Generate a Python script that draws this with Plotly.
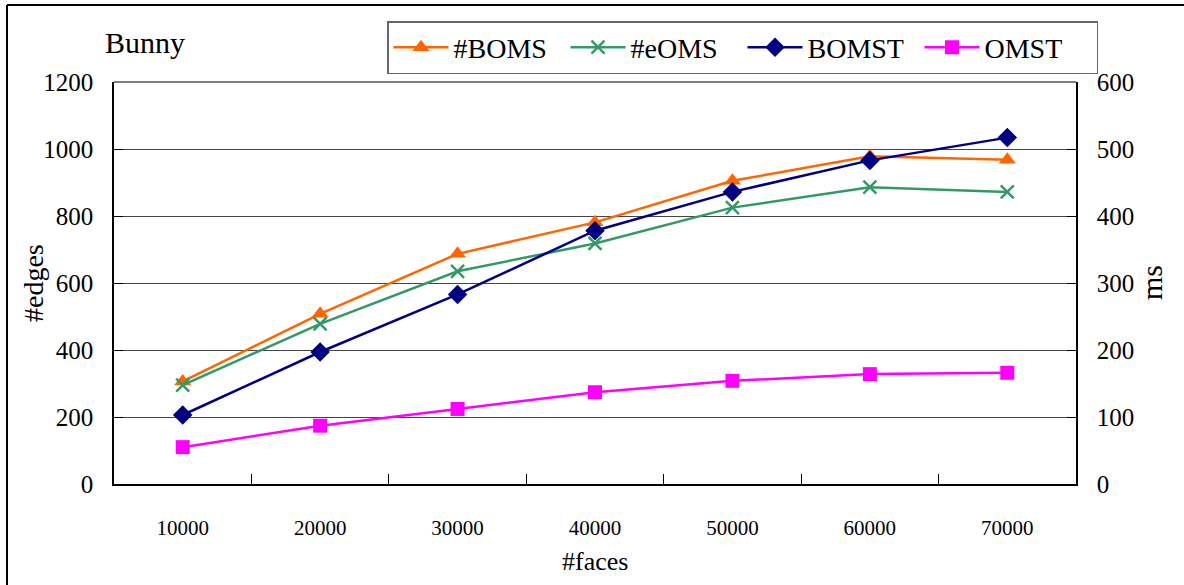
import plotly.graph_objects as go

faces = ["10000", "20000", "30000", "40000", "50000", "60000", "70000"]
boms = [306, 508, 687, 781, 905, 978, 968]
eoms = [295, 478, 635, 718, 825, 886, 872]
bomst_ms = [103, 197, 283, 378, 436, 483, 517]
omst_ms = [55, 87, 112, 137, 154, 164, 166]

FONT = "Liberation Serif, Times New Roman, serif"
W, H = 1184, 585
L, R, T, B = 114, 108, 82, 101

fig = go.Figure()
fig.add_trace(go.Scatter(x=faces, y=boms, name="#BOMS", mode="lines+markers",
                         line=dict(color="#FF6600", width=2.5),
                         marker=dict(symbol="triangle-up", size=15, color="#FF6600")))
fig.add_trace(go.Scatter(x=faces, y=eoms, name="#eOMS", mode="lines+markers",
                         line=dict(color="#339966", width=2.5),
                         marker=dict(symbol="x-thin", size=13, color="#339966",
                                     line=dict(color="#339966", width=2.5))))
fig.add_trace(go.Scatter(x=faces, y=bomst_ms, name="BOMST", mode="lines+markers", yaxis="y2",
                         line=dict(color="#000080", width=2.5),
                         marker=dict(symbol="diamond", size=15, color="#000080")))
fig.add_trace(go.Scatter(x=faces, y=omst_ms, name="OMST", mode="lines+markers", yaxis="y2",
                         line=dict(color="#FF00FF", width=2.5),
                         marker=dict(symbol="square", size=14, color="#FF00FF")))

pw = W - L - R
ph = H - T - B


def px(x):
    return (x - L) / pw


def py(y):
    return (H - B - y) / ph


fig.update_layout(
    width=W, height=H,
    margin=dict(l=L, r=R, t=T, b=B, autoexpand=False),
    paper_bgcolor="white", plot_bgcolor="white",
    font=dict(family=FONT, color="black", size=24),
    showlegend=True,
    legend=dict(orientation="h", x=px(387), xanchor="left",
                y=py(21), yanchor="top",
                bordercolor="#666666", borderwidth=1.5, bgcolor="white",
                font=dict(family=FONT, size=28),
                itemwidth=55,
                entrywidth=107, entrywidthmode="pixels",
                traceorder="normal"),
    xaxis=dict(type="category", showline=True, linecolor="black", linewidth=1.5,
               ticks="inside", ticklen=10, tickcolor="black", tickson="boundaries",
               showgrid=False, tickfont=dict(size=21), ticklabelstandoff=24,
               range=[-0.5, 6.5], zeroline=False),
    yaxis=dict(range=[0, 1200], dtick=200, showline=True, linecolor="black", linewidth=1.5,
               ticks="inside", ticklen=9, tickcolor="black",
               showgrid=True, gridcolor="#444444", gridwidth=1,
               tickfont=dict(size=25), ticklabelstandoff=14,
               zeroline=False),
    yaxis2=dict(range=[0, 600], dtick=100, overlaying="y", side="right",
                showline=True, linecolor="black", linewidth=1.5,
                ticks="inside", ticklen=9, tickcolor="black", showgrid=False,
                tickfont=dict(size=25), ticklabelstandoff=14,
                zeroline=False),
    annotations=[
        dict(text="Bunny", xref="paper", yref="paper",
             x=px(103), y=py(42), xanchor="left", yanchor="middle",
             showarrow=False, font=dict(family=FONT, size=30)),
        dict(text="#edges", xref="paper", yref="paper", textangle=-90,
             x=px(33), y=py(283), xanchor="center", yanchor="middle",
             showarrow=False, font=dict(family=FONT, size=28)),
        dict(text="ms", xref="paper", yref="paper", textangle=-90,
             x=px(1151), y=py(283), xanchor="center", yanchor="middle",
             showarrow=False, font=dict(family=FONT, size=30)),
        dict(text="#faces", xref="paper", yref="paper",
             x=px(595), y=py(561), xanchor="center", yanchor="middle",
             showarrow=False, font=dict(family=FONT, size=26)),
    ],
    shapes=[
        dict(type="line", xref="paper", yref="paper", x0=px(7), x1=px(7),
             y0=py(5), y1=py(600), line=dict(color="black", width=2)),
        dict(type="line", xref="paper", yref="paper", x0=px(7), x1=px(1200),
             y0=py(5), y1=py(5), line=dict(color="black", width=2)),
        dict(type="line", xref="paper", yref="paper", x0=0, x1=1, y0=1, y1=1,
             line=dict(color="black", width=1.2)),
    ],
)

fig.write_html("out.html", config={"displayModeBar": False},
               post_script="document.body.style.margin='0px';")
